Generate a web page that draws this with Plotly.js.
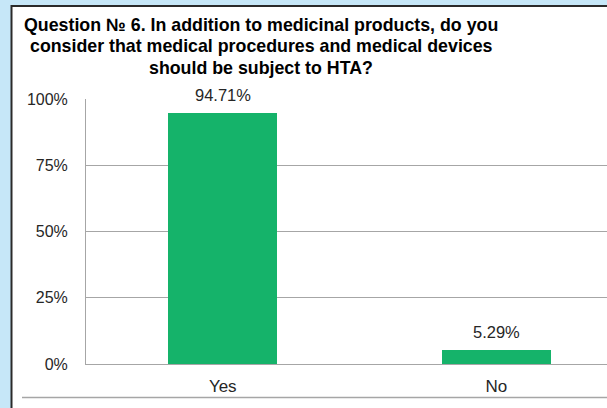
<!DOCTYPE html>
<html>
<head>
<meta charset="utf-8">
<script src="https://cdn.plot.ly/plotly-3.0.1.min.js"></script>
<style>html,body{margin:0;padding:0;background:#c6e7f8;}</style>
</head>
<body>
<div id="chart" style="width:607px;height:408px;"></div>
<script>
const categories = ["Yes", "No"];
const values = [94.71, 5.29];
const valueLabels = ["94.71%", "5.29%"];
const yTicks = [0, 25, 50, 75, 100];
const yTickLabels = ["0%", "25%", "50%", "75%", "100%"];
const titleLines = [
  "Question № 6. In addition to medicinal products, do you",
  "consider that medical procedures and medical devices",
  "should be subject to HTA?"
];

const FONT = "Arial, 'Liberation Sans', sans-serif";
const green = "#15b36a";
const grid = "#a6a6a6";

const trace = {
  type: "bar",
  x: categories,
  y: values,
  width: 0.4,
  marker: {color: green},
  hoverinfo: "skip"
};

const labelAnnotations = categories.map((c, i) => ({
  x: c, y: values[i], xref: "x", yref: "y",
  text: valueLabels[i], showarrow: false,
  yanchor: "bottom", yshift: 7,
  font: {family: FONT, size: 16.5, color: "#262626"}
}));

// title lines centred at x = 261 px, line centres in px
const titleCentersY = [25, 46.5, 68];
const titleAnnotations = titleLines.map((t, i) => ({
  xref: "paper", yref: "paper",
  x: (261 - 86) / 521,
  y: (364 - titleCentersY[i]) / 265,
  xanchor: "center", yanchor: "middle",
  text: "<b>" + t + "</b>", showarrow: false,
  font: {family: FONT, size: 17.8, color: "#000000"}
}));

const layout = {
  width: 607, height: 408,
  margin: {l: 86, r: 0, t: 99, b: 44, pad: 0},
  paper_bgcolor: "#c6e7f8",
  plot_bgcolor: "rgba(0,0,0,0)",
  showlegend: false,
  bargap: 0,
  xaxis: {
    type: "category",
    range: [-0.5, 1.405],
    showgrid: false,
    showline: true, linecolor: grid, linewidth: 1,
    ticks: "",
    ticklabelstandoff: 7,
    tickfont: {family: FONT, size: 17, color: "#262626"},
    fixedrange: true
  },
  yaxis: {
    range: [0, 100],
    tickvals: yTicks, ticktext: yTickLabels,
    showgrid: true, gridcolor: grid, gridwidth: 1,
    zeroline: false,
    showline: true, linecolor: grid, linewidth: 1,
    ticks: "",
    ticklabelstandoff: 14,
    tickfont: {family: FONT, size: 16, color: "#262626"},
    fixedrange: true
  },
  annotations: titleAnnotations.concat(labelAnnotations),
  shapes: [
    {type: "rect", xref: "paper", yref: "paper", layer: "below",
     x0: (11.5 - 86) / 521, x1: 1.2, y0: -0.3, y1: (364 - 6) / 265,
     fillcolor: "#ffffff", line: {color: "#2a2a2a", width: 2}},
    {type: "line", xref: "paper", yref: "paper",
     x0: (22 - 86) / 521, x1: 1.05, y0: (364 - 397.5) / 265, y1: (364 - 397.5) / 265,
     line: {color: grid, width: 1.5}}
  ]
};

Plotly.newPlot("chart", [trace], layout, {displayModeBar: false, staticPlot: true});
</script>
</body>
</html>
